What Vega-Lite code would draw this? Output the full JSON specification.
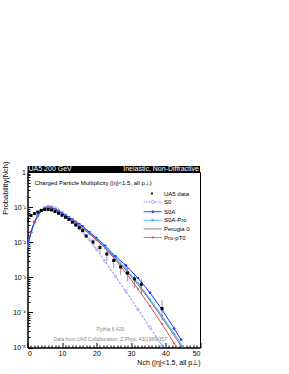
{
  "$schema": "https://vega.github.io/schema/vega-lite/v6.json",
  "width": 172.5,
  "height": 175.5,
  "autosize": {"type": "none"},
  "padding": {"left": 27.5, "top": 172, "right": 89, "bottom": 26.5},
  "background": "white",
  "config": {
    "view": {"stroke": "black", "strokeWidth": 1},
    "font": "Liberation Sans",
    "axis": {"grid": false, "domainColor": "black", "tickColor": "black", "labelColor": "black", "titleColor": "black", "labelFont": "Liberation Sans", "titleFont": "Liberation Sans", "titleFontWeight": "normal"},
    "legend": {"labelFont": "Liberation Sans", "labelFontSize": 6, "labelColor": "black"}
  },
  "datasets": {
    "ua5": [
      {"n": 0, "p": 0.043}, {"n": 1, "p": 0.058}, {"n": 2, "p": 0.066}, {"n": 3, "p": 0.073},
      {"n": 4, "p": 0.080}, {"n": 5, "p": 0.085}, {"n": 6, "p": 0.086}, {"n": 7, "p": 0.083},
      {"n": 8, "p": 0.075}, {"n": 9, "p": 0.067}, {"n": 10, "p": 0.059}, {"n": 11, "p": 0.051},
      {"n": 12, "p": 0.044}, {"n": 13, "p": 0.037}, {"n": 14, "p": 0.031}, {"n": 15, "p": 0.026},
      {"n": 16, "p": 0.0215, "lo": 0.01935, "hi": 0.02365},
      {"n": 17, "p": 0.0151, "lo": 0.01284, "hi": 0.01737},
      {"n": 19, "p": 0.0102, "lo": 0.00765, "hi": 0.01275},
      {"n": 21, "p": 0.0071, "lo": 0.00497, "hi": 0.00923},
      {"n": 23, "p": 0.0046, "lo": 0.00299, "hi": 0.00621},
      {"n": 25, "p": 0.0030, "lo": 0.00186, "hi": 0.00414},
      {"n": 27, "p": 0.00195, "lo": 0.00117, "hi": 0.00273},
      {"n": 29, "p": 0.00132, "lo": 0.000766, "hi": 0.001874},
      {"n": 31, "p": 0.00089, "lo": 0.00049, "hi": 0.00129},
      {"n": 33, "p": 0.00063, "lo": 0.000328, "hi": 0.000932},
      {"n": 39, "p": 0.00013, "lo": 0.00006, "hi": 0.000222}
    ],
    "mc": [
      {"s": "S0", "n": 0, "p": 0.00813}, {"s": "S0", "n": 1, "p": 0.0191}, {"s": "S0", "n": 2, "p": 0.0380}, {"s": "S0", "n": 3, "p": 0.0603},
      {"s": "S0", "n": 4, "p": 0.0832}, {"s": "S0", "n": 5, "p": 0.0977}, {"s": "S0", "n": 6, "p": 0.1047}, {"s": "S0", "n": 7, "p": 0.1023},
      {"s": "S0", "n": 8, "p": 0.0933}, {"s": "S0", "n": 9, "p": 0.0813}, {"s": "S0", "n": 10, "p": 0.0692}, {"s": "S0", "n": 11, "p": 0.0575},
      {"s": "S0", "n": 12, "p": 0.0479}, {"s": "S0", "n": 13, "p": 0.0389}, {"s": "S0", "n": 14, "p": 0.0309}, {"s": "S0", "n": 15, "p": 0.0245},
      {"s": "S0", "n": 16, "p": 0.0195}, {"s": "S0", "n": 18, "p": 0.01175}, {"s": "S0", "n": 20, "p": 0.00631}, {"s": "S0", "n": 22.5, "p": 0.00282},
      {"s": "S0", "n": 25.5, "p": 0.00105}, {"s": "S0", "n": 28.5, "p": 0.000398}, {"s": "S0", "n": 32, "p": 0.000123}, {"s": "S0", "n": 35.5, "p": 0.0000372},
      {"s": "S0", "n": 39, "p": 0.0000112}, {"s": "S0", "n": 40.5, "p": 0.0000071},

      {"s": "S0A", "n": 0, "p": 0.00813}, {"s": "S0A", "n": 1, "p": 0.0191}, {"s": "S0A", "n": 2, "p": 0.0372}, {"s": "S0A", "n": 3, "p": 0.0575},
      {"s": "S0A", "n": 4, "p": 0.0794}, {"s": "S0A", "n": 5, "p": 0.0933}, {"s": "S0A", "n": 6, "p": 0.100}, {"s": "S0A", "n": 7, "p": 0.0955},
      {"s": "S0A", "n": 8, "p": 0.0871}, {"s": "S0A", "n": 9, "p": 0.0776}, {"s": "S0A", "n": 10, "p": 0.0676}, {"s": "S0A", "n": 11, "p": 0.0589},
      {"s": "S0A", "n": 12, "p": 0.0513}, {"s": "S0A", "n": 13, "p": 0.0447}, {"s": "S0A", "n": 14, "p": 0.0380}, {"s": "S0A", "n": 15, "p": 0.0331},
      {"s": "S0A", "n": 16, "p": 0.0282}, {"s": "S0A", "n": 18, "p": 0.0191}, {"s": "S0A", "n": 20, "p": 0.0132}, {"s": "S0A", "n": 22.5, "p": 0.00794},
      {"s": "S0A", "n": 25.5, "p": 0.00398}, {"s": "S0A", "n": 28.5, "p": 0.00219}, {"s": "S0A", "n": 32, "p": 0.000955}, {"s": "S0A", "n": 35.5, "p": 0.000363},
      {"s": "S0A", "n": 39, "p": 0.000120}, {"s": "S0A", "n": 42.5, "p": 0.0000347}, {"s": "S0A", "n": 44.5, "p": 0.0000166},

      {"s": "S0A-Pro", "n": 0, "p": 0.00759}, {"s": "S0A-Pro", "n": 1, "p": 0.0182}, {"s": "S0A-Pro", "n": 2, "p": 0.0363}, {"s": "S0A-Pro", "n": 3, "p": 0.0575},
      {"s": "S0A-Pro", "n": 4, "p": 0.0794}, {"s": "S0A-Pro", "n": 5, "p": 0.0933}, {"s": "S0A-Pro", "n": 6, "p": 0.100}, {"s": "S0A-Pro", "n": 7, "p": 0.0955},
      {"s": "S0A-Pro", "n": 8, "p": 0.0851}, {"s": "S0A-Pro", "n": 9, "p": 0.0759}, {"s": "S0A-Pro", "n": 10, "p": 0.0661}, {"s": "S0A-Pro", "n": 11, "p": 0.0575},
      {"s": "S0A-Pro", "n": 12, "p": 0.0490}, {"s": "S0A-Pro", "n": 13, "p": 0.0427}, {"s": "S0A-Pro", "n": 14, "p": 0.0363}, {"s": "S0A-Pro", "n": 15, "p": 0.0309},
      {"s": "S0A-Pro", "n": 16, "p": 0.0263}, {"s": "S0A-Pro", "n": 18, "p": 0.0182}, {"s": "S0A-Pro", "n": 20, "p": 0.0123}, {"s": "S0A-Pro", "n": 22.5, "p": 0.00724},
      {"s": "S0A-Pro", "n": 25.5, "p": 0.00363}, {"s": "S0A-Pro", "n": 28.5, "p": 0.00178}, {"s": "S0A-Pro", "n": 32, "p": 0.000692}, {"s": "S0A-Pro", "n": 35.5, "p": 0.000240},
      {"s": "S0A-Pro", "n": 39, "p": 0.0000794}, {"s": "S0A-Pro", "n": 42.5, "p": 0.0000251}, {"s": "S0A-Pro", "n": 45, "p": 0.0000107},

      {"s": "Perugia 0", "n": 0, "p": 0.00794}, {"s": "Perugia 0", "n": 1, "p": 0.0186}, {"s": "Perugia 0", "n": 2, "p": 0.0363}, {"s": "Perugia 0", "n": 3, "p": 0.0575},
      {"s": "Perugia 0", "n": 4, "p": 0.0776}, {"s": "Perugia 0", "n": 5, "p": 0.0912}, {"s": "Perugia 0", "n": 6, "p": 0.0977}, {"s": "Perugia 0", "n": 7, "p": 0.0933},
      {"s": "Perugia 0", "n": 8, "p": 0.0851}, {"s": "Perugia 0", "n": 9, "p": 0.0759}, {"s": "Perugia 0", "n": 10, "p": 0.0661}, {"s": "Perugia 0", "n": 11, "p": 0.0562},
      {"s": "Perugia 0", "n": 12, "p": 0.0490}, {"s": "Perugia 0", "n": 13, "p": 0.0417}, {"s": "Perugia 0", "n": 14, "p": 0.0355}, {"s": "Perugia 0", "n": 15, "p": 0.0302},
      {"s": "Perugia 0", "n": 16, "p": 0.0257}, {"s": "Perugia 0", "n": 18, "p": 0.0178}, {"s": "Perugia 0", "n": 20, "p": 0.0120}, {"s": "Perugia 0", "n": 22.5, "p": 0.00692},
      {"s": "Perugia 0", "n": 25.5, "p": 0.00339}, {"s": "Perugia 0", "n": 28.5, "p": 0.00162}, {"s": "Perugia 0", "n": 32, "p": 0.000631}, {"s": "Perugia 0", "n": 35.5, "p": 0.000219},
      {"s": "Perugia 0", "n": 39, "p": 0.0000708}, {"s": "Perugia 0", "n": 42.5, "p": 0.0000219}, {"s": "Perugia 0", "n": 45, "p": 0.0000095},

      {"s": "Pro-pT0", "n": 0, "p": 0.00794}, {"s": "Pro-pT0", "n": 1, "p": 0.0186}, {"s": "Pro-pT0", "n": 2, "p": 0.0372}, {"s": "Pro-pT0", "n": 3, "p": 0.0589},
      {"s": "Pro-pT0", "n": 4, "p": 0.0794}, {"s": "Pro-pT0", "n": 5, "p": 0.0933}, {"s": "Pro-pT0", "n": 6, "p": 0.100}, {"s": "Pro-pT0", "n": 7, "p": 0.0955},
      {"s": "Pro-pT0", "n": 8, "p": 0.0851}, {"s": "Pro-pT0", "n": 9, "p": 0.0741}, {"s": "Pro-pT0", "n": 10, "p": 0.0646}, {"s": "Pro-pT0", "n": 11, "p": 0.0562},
      {"s": "Pro-pT0", "n": 12, "p": 0.0479}, {"s": "Pro-pT0", "n": 13, "p": 0.0407}, {"s": "Pro-pT0", "n": 14, "p": 0.0347}, {"s": "Pro-pT0", "n": 15, "p": 0.0295},
      {"s": "Pro-pT0", "n": 16, "p": 0.0245}, {"s": "Pro-pT0", "n": 18, "p": 0.0170}, {"s": "Pro-pT0", "n": 20, "p": 0.0115}, {"s": "Pro-pT0", "n": 22.5, "p": 0.00676},
      {"s": "Pro-pT0", "n": 25.5, "p": 0.00316}, {"s": "Pro-pT0", "n": 28.5, "p": 0.00135}, {"s": "Pro-pT0", "n": 32, "p": 0.000468}, {"s": "Pro-pT0", "n": 35.5, "p": 0.000151},
      {"s": "Pro-pT0", "n": 39, "p": 0.0000468}, {"s": "Pro-pT0", "n": 42.5, "p": 0.0000132}, {"s": "Pro-pT0", "n": 44, "p": 0.0000079}
    ]
  },
  "resolve": {"axis": {"x": "independent", "y": "independent"}},
  "layer": [
    {
      "data": {"name": "ua5"},
      "transform": [{"filter": "isValid(datum.lo)"}],
      "mark": {"type": "rule", "color": "#9a9a9a", "strokeWidth": 1},
      "encoding": {
        "x": {"field": "n", "type": "quantitative", "scale": {"domain": [0, 50], "nice": false, "zero": false},
          "axis": {"orient": "bottom", "values": [1,2,3,4,5,6,7,8,9,11,12,13,14,15,16,17,18,19,21,22,23,24,25,26,27,28,29,31,32,33,34,35,36,37,38,39,41,42,43,44,45,46,47,48,49], "tickSize": -2.5, "labels": false, "domain": false, "title": null, "grid": false}},
        "y": {"field": "lo", "type": "quantitative", "scale": {"type": "log", "domain": [0.00001, 1], "nice": false},
          "axis": {"orient": "left", "values": [0.00002,0.00003,0.00004,0.00005,0.00006,0.00007,0.00008,0.00009,0.0002,0.0003,0.0004,0.0005,0.0006,0.0007,0.0008,0.0009,0.002,0.003,0.004,0.005,0.006,0.007,0.008,0.009,0.02,0.03,0.04,0.05,0.06,0.07,0.08,0.09,0.2,0.3,0.4,0.5,0.6,0.7,0.8,0.9], "tickSize": -2.5, "labels": false, "domain": false, "title": null, "grid": false}},
        "y2": {"field": "hi"}
      }
    },
    {
      "data": {"name": "mc"},
      "transform": [{"filter": "datum.s == 'S0'"}],
      "mark": {"type": "line", "strokeWidth": 1, "color": "#8080ff", "strokeDash": [2.5, 1.5], "clip": true},
      "encoding": {
        "x": {"field": "n", "type": "quantitative",
          "axis": {"orient": "bottom", "values": [0, 10, 20, 30, 40, 50], "tickSize": -5, "labelPadding": 7, "labelFontSize": 7, "title": "Nch (|η|<1.5, all p⊥)", "titleAnchor": "end", "titleFontSize": 7, "titlePadding": 2}},
        "y": {"field": "p", "type": "quantitative",
          "axis": {"orient": "left", "values": [0.00001, 0.0001, 0.001, 0.01, 0.1, 1], "tickSize": -5, "labelPadding": 7, "labelFontSize": 7,
            "labelExpr": "datum.value >= 0.99 ? '1' : '10' + ['⁻¹','⁻²','⁻³','⁻⁴','⁻⁵'][round(-log(datum.value)/LN10) - 1]",
            "title": "Probability(Nch)", "titleAnchor": "end", "titleAlign": "right", "titleY": -11, "titleFontSize": 7.5, "titlePadding": 3}}
      }
    },
    {
      "data": {"name": "mc"},
      "transform": [{"filter": "datum.s == 'Pro-pT0'"}],
      "mark": {"type": "line", "strokeWidth": 1, "color": "#e04848", "clip": true},
      "encoding": {"x": {"field": "n", "type": "quantitative", "axis": null}, "y": {"field": "p", "type": "quantitative", "axis": null}}
    },
    {
      "data": {"name": "mc"},
      "transform": [{"filter": "datum.s == 'Perugia 0'"}],
      "mark": {"type": "line", "strokeWidth": 1, "color": "#707070", "clip": true},
      "encoding": {"x": {"field": "n", "type": "quantitative", "axis": null}, "y": {"field": "p", "type": "quantitative", "axis": null}}
    },
    {
      "data": {"name": "mc"},
      "transform": [{"filter": "datum.s == 'S0A-Pro'"}],
      "mark": {"type": "line", "strokeWidth": 1, "color": "#3fb0ff", "clip": true},
      "encoding": {"x": {"field": "n", "type": "quantitative", "axis": null}, "y": {"field": "p", "type": "quantitative", "axis": null}}
    },
    {
      "data": {"name": "mc"},
      "transform": [{"filter": "datum.s == 'S0A'"}],
      "mark": {"type": "line", "strokeWidth": 1, "color": "#1f2fff", "clip": true},
      "encoding": {"x": {"field": "n", "type": "quantitative", "axis": null}, "y": {"field": "p", "type": "quantitative", "axis": null}}
    },
    {
      "data": {"name": "mc"},
      "transform": [{"filter": "datum.s == 'S0'"}],
      "mark": {"type": "point", "shape": "circle", "filled": false, "color": "#8080ff", "size": 8, "strokeWidth": 0.8, "clip": true},
      "encoding": {"x": {"field": "n", "type": "quantitative", "axis": null}, "y": {"field": "p", "type": "quantitative", "axis": null}}
    },
    {
      "data": {"name": "mc"},
      "transform": [{"filter": "datum.s == 'S0A'"}],
      "mark": {"type": "point", "shape": "circle", "filled": true, "color": "#1f2fff", "size": 7, "opacity": 1, "clip": true},
      "encoding": {"x": {"field": "n", "type": "quantitative", "axis": null}, "y": {"field": "p", "type": "quantitative", "axis": null}}
    },
    {
      "data": {"name": "mc"},
      "transform": [{"filter": "datum.s == 'S0A-Pro'"}],
      "mark": {"type": "point", "shape": "square", "filled": true, "color": "#3fb0ff", "size": 4, "opacity": 1, "clip": true},
      "encoding": {"x": {"field": "n", "type": "quantitative", "axis": null}, "y": {"field": "p", "type": "quantitative", "axis": null}}
    },
    {
      "data": {"name": "mc"},
      "transform": [{"filter": "datum.s == 'Pro-pT0'"}],
      "mark": {"type": "point", "shape": "circle", "filled": true, "color": "#e04848", "size": 4, "opacity": 1, "clip": true},
      "encoding": {"x": {"field": "n", "type": "quantitative", "axis": null}, "y": {"field": "p", "type": "quantitative", "axis": null}}
    },
    {
      "data": {"name": "ua5"},
      "mark": {"type": "point", "shape": "square", "filled": true, "color": "#000000", "size": 9, "opacity": 1, "clip": true},
      "encoding": {"x": {"field": "n", "type": "quantitative", "axis": null}, "y": {"field": "p", "type": "quantitative", "axis": null}}
    },
    {
      "data": {"name": "mc"},
      "transform": [{"filter": "datum.n < 0"}],
      "mark": {"type": "point", "filled": false, "strokeWidth": 1},
      "encoding": {
        "x": {"field": "n", "type": "quantitative", "axis": null},
        "y": {"field": "p", "type": "quantitative", "axis": null},
        "color": {"field": "s", "type": "nominal",
          "scale": {"domain": ["UA5 data", "S0", "S0A", "S0A-Pro", "Perugia 0", "Pro-pT0"], "range": ["#000000", "#8080ff", "#1f2fff", "#3fb0ff", "#707070", "#e04848"]},
          "legend": {"title": null, "orient": "none", "legendX": 126.5, "legendY": 17, "symbolSize": 64, "symbolStrokeWidth": 1, "labelFontSize": 6, "labelOffset": 1, "rowPadding": 0.6, "padding": 0, "symbolOpacity": 1}},
        "shape": {"field": "s", "type": "nominal",
          "scale": {"domain": ["UA5 data", "S0", "S0A", "S0A-Pro", "Perugia 0", "Pro-pT0"],
            "range": [
              "M-1.8,-0.15H-1.5V0.15H-1.8Z",
              "M-3.7,0H-1.8M-1.0,0H0.8M-1.8,0A0.4,0.4 0 1,1 -1.0,0A0.4,0.4 0 1,1 -1.8,0",
              "M-3.7,0H0.8M-1.65,0A0.25,0.25 0 1,1 -1.15,0A0.25,0.25 0 1,1 -1.65,0",
              "M-3.7,0H0.8M-1.65,-0.2H-1.25V0.2H-1.65Z",
              "M-3.7,0H0.8",
              "M-3.7,0H0.8M-1.6,0A0.2,0.2 0 1,1 -1.2,0A0.2,0.2 0 1,1 -1.6,0"
            ]},
          "legend": {"title": null, "orient": "none", "legendX": 126.5, "legendY": 17, "symbolSize": 64, "symbolStrokeWidth": 1, "labelFontSize": 6, "labelOffset": 1, "rowPadding": 0.6, "padding": 0, "symbolOpacity": 1}},
        "strokeDash": {"field": "s", "type": "nominal",
          "scale": {"domain": ["UA5 data", "S0", "S0A", "S0A-Pro", "Perugia 0", "Pro-pT0"], "range": [[1, 0], [1.5, 1], [1, 0], [1, 0], [1, 0], [1, 0]]},
          "legend": {"title": null, "orient": "none", "legendX": 126.5, "legendY": 17, "symbolSize": 64, "symbolStrokeWidth": 1, "labelFontSize": 6, "labelOffset": 1, "rowPadding": 0.6, "padding": 0, "symbolOpacity": 1}}
      }
    },
    {
      "data": {"values": [{}]},
      "mark": {"type": "rect", "color": "#000000"},
      "encoding": {"x": {"datum": 0, "axis": null}, "x2": {"datum": 50}, "y": {"datum": 1, "axis": null}, "y2": {"datum": 1.48}}
    },
    {
      "data": {"values": [{}]},
      "mark": {"type": "text", "text": "UA5 200 GeV", "color": "white", "fontSize": 7, "align": "left", "baseline": "middle", "font": "Liberation Sans"},
      "encoding": {"x": {"datum": 0.3, "axis": null}, "y": {"datum": 1.21, "axis": null}}
    },
    {
      "data": {"values": [{}]},
      "mark": {"type": "text", "text": "Inelastic, Non-Diffractive", "color": "white", "fontSize": 7, "align": "right", "baseline": "middle", "font": "Liberation Sans"},
      "encoding": {"x": {"datum": 49.7, "axis": null}, "y": {"datum": 1.21, "axis": null}}
    },
    {
      "data": {"values": [{}]},
      "mark": {"type": "text", "text": "Charged Particle  Multiplicity (|η|<1.5, all p⊥)", "color": "black", "fontSize": 6, "align": "left", "baseline": "middle", "font": "Liberation Sans"},
      "encoding": {"x": {"datum": 2, "axis": null}, "y": {"datum": 0.48, "axis": null}}
    },
    {
      "data": {"values": [{}]},
      "mark": {"type": "text", "text": "Pythia 6.420", "color": "#888888", "fontSize": 5, "align": "center", "baseline": "middle", "font": "Liberation Sans"},
      "encoding": {"x": {"datum": 24, "axis": null}, "y": {"datum": 0.000034, "axis": null}}
    },
    {
      "data": {"values": [{}]},
      "mark": {"type": "text", "text": "Data from UA5 Collaboration, Z.Phys. 43(1989)357", "color": "#888888", "fontSize": 5, "align": "center", "baseline": "middle", "font": "Liberation Sans"},
      "encoding": {"x": {"datum": 24, "axis": null}, "y": {"datum": 0.0000175, "axis": null}}
    }
  ]
}
